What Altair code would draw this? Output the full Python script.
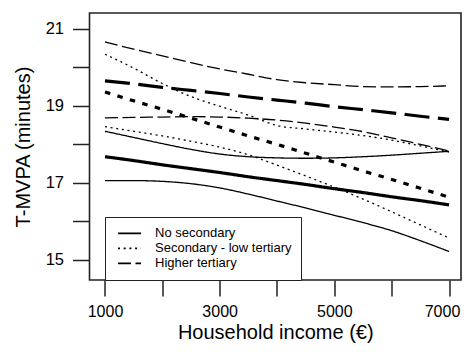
import altair as alt
import pandas as pd

INCOME = [1000, 1500, 2000, 2500, 3000, 3500, 4000, 4500, 5000, 5500, 6000, 6500, 7000]
EDU = ["No secondary", "Secondary - low tertiary", "Higher tertiary"]

NO_SEC_UPPER = [18.34, 18.18, 18.02, 17.87, 17.75, 17.68, 17.65, 17.64, 17.65, 17.68, 17.72, 17.77, 17.82]
NO_SEC_MEAN = [17.68, 17.58, 17.47, 17.37, 17.27, 17.16, 17.06, 16.96, 16.85, 16.75, 16.64, 16.54, 16.43]
NO_SEC_LOWER = [17.06, 17.06, 17.04, 16.98, 16.87, 16.71, 16.53, 16.35, 16.16, 15.97, 15.76, 15.50, 15.22]

SEC_UPPER = [20.34, 19.98, 19.58, 19.24, 18.99, 18.76, 18.49, 18.40, 18.32, 18.23, 18.11, 17.96, 17.80]
SEC_MEAN = [19.36, 19.13, 18.91, 18.68, 18.45, 18.22, 18.00, 17.77, 17.54, 17.31, 17.09, 16.86, 16.63]
SEC_LOWER = [18.46, 18.34, 18.22, 18.08, 17.93, 17.73, 17.46, 17.18, 16.89, 16.58, 16.25, 15.91, 15.57]

HIGH_UPPER = [20.66, 20.47, 20.30, 20.12, 19.96, 19.82, 19.68, 19.60, 19.55, 19.50, 19.49, 19.50, 19.52]
HIGH_MEAN = [19.65, 19.57, 19.48, 19.40, 19.32, 19.23, 19.15, 19.07, 18.98, 18.90, 18.82, 18.73, 18.65]
HIGH_LOWER = [18.69, 18.70, 18.71, 18.72, 18.71, 18.68, 18.63, 18.55, 18.45, 18.33, 18.17, 18.00, 17.83]

X_TICKS = [1000, 2000, 3000, 4000, 5000, 6000, 7000]
Y_TICKS = [15, 16, 17, 18, 19, 20, 21]

series = [
    (EDU[0], "upper", NO_SEC_UPPER), (EDU[0], "mean", NO_SEC_MEAN), (EDU[0], "lower", NO_SEC_LOWER),
    (EDU[1], "upper", SEC_UPPER), (EDU[1], "mean", SEC_MEAN), (EDU[1], "lower", SEC_LOWER),
    (EDU[2], "upper", HIGH_UPPER), (EDU[2], "mean", HIGH_MEAN), (EDU[2], "lower", HIGH_LOWER),
]
rows = []
for edu, kind, vals in series:
    for x, v in zip(INCOME, vals):
        rows.append({"income": x, "tmvpa": v, "edu": edu, "kind": kind})
df = pd.DataFrame(rows)

FONT = "Liberation Sans"

x_enc = alt.X(
    "income:Q",
    scale=alt.Scale(domain=[730, 7209], nice=False, zero=False),
    axis=alt.Axis(values=X_TICKS, format="d",
                  labelExpr="datum.value % 2000 == 1000 ? datum.label : ''",
                  labelOffset={"condition": {"test": "datum.value == 7000", "value": -7}, "value": 0},
                  title="Household income (€)", labelPadding=7, titlePadding=3,
                  titleFontSize=20, tickSize=16, labelFontSize=16),
)
y_enc = alt.Y(
    "tmvpa:Q",
    scale=alt.Scale(domain=[14.48, 21.41], nice=False, zero=False),
    axis=alt.Axis(values=Y_TICKS, format="d",
                  labelExpr="datum.value % 2 == 1 ? datum.label : ''",
                  title="T-MVPA (minutes)", labelPadding=9, titlePadding=12,
                  titleFontSize=20, tickSize=17, labelFontSize=16.5),
)

ci = alt.Chart(df).transform_filter("datum.kind != 'mean'").mark_line(
    strokeWidth=1.3, color="black", interpolate="monotone"
).encode(
    x=x_enc,
    y=y_enc,
    strokeDash=alt.StrokeDash(
        "edu:N",
        scale=alt.Scale(domain=EDU, range=[[1, 0], [2, 3.7], [13, 4.5]]),
        legend=alt.Legend(
            title=None, orient="none", legendX=15.5, legendY=204,
            strokeColor="#222", fillColor="white", padding=9,
            symbolType="stroke", symbolSize=529, symbolStrokeWidth=1.8,
            symbolStrokeColor="black", symbolOffset=3,
            labelFontSize=13, labelFont=FONT,
            labelColor="black", labelOffset=13, clipHeight=14.8, rowPadding=0,
        ),
    ),
    detail="kind:N",
)

mean = alt.Chart(df).transform_filter("datum.kind == 'mean'").mark_line(
    strokeWidth=3.2, color="black", interpolate="monotone"
).encode(
    x=x_enc,
    y=y_enc,
    strokeDash=alt.StrokeDash(
        "edu:N",
        scale=alt.Scale(domain=EDU, range=[[1, 0], [5.5, 7.5], [25, 8.5]]),
        legend=None,
    ),
)

chart = alt.layer(ci, mean).resolve_scale(strokeDash="independent").properties(
    width=371.5, height=267,
    autosize=alt.AutoSizeParams(type="none"),
    padding={"left": 81.5, "top": 5, "right": 1, "bottom": 67},
).configure_view(
    stroke="#222", strokeWidth=1.6
).configure_axis(
    grid=False, domain=False, tickWidth=1.5, tickColor="#222",
    labelFont=FONT, labelColor="black",
    titleFont=FONT, titleFontWeight="normal", titleColor="black",
    labelFlush=False, labelOverlap=False,
)

chart.save("out.html", embed_options={"renderer": "svg", "actions": False})
